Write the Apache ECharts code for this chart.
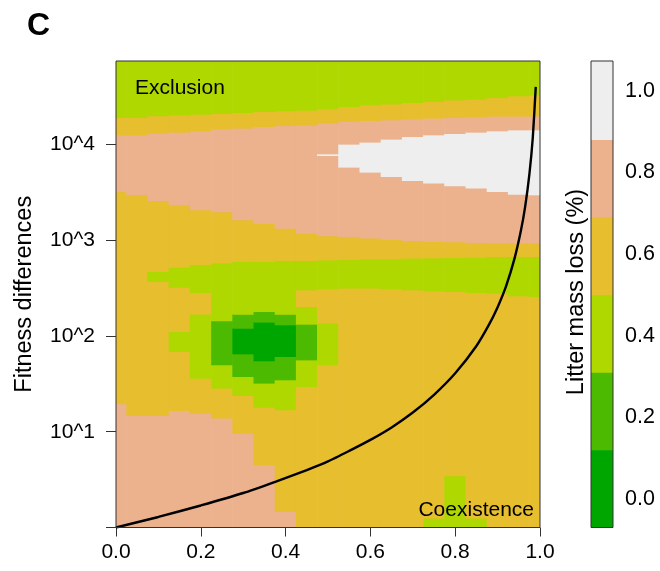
<!DOCTYPE html>
<html><head><meta charset="utf-8">
<script src="https://cdn.jsdelivr.net/npm/echarts@6/dist/echarts.min.js"></script>
<style>html,body{margin:0;padding:0;background:#fff}#c{width:660px;height:571px}</style>
</head><body><div id="c"></div>
<script>
// ---------- data ----------
const xCenters = [0, 0.05, 0.1, 0.15, 0.2, 0.25, 0.3, 0.35, 0.4, 0.45, 0.5, 0.55, 0.6, 0.65, 0.7, 0.75, 0.8, 0.85, 0.9, 0.95, 1.0];
const xTickValues = [0, 0.2, 0.4, 0.6, 0.8, 1.0];
const yTickExponents = [1, 2, 3, 4];
const yTopExponent = 4.87;
const legendTicks = [0.0, 0.2, 0.4, 0.6, 0.8, 1.0];
const levelBreaks = [-0.07, 0.12, 0.31, 0.50, 0.69, 0.88, 1.073];
const levelColors = ['#00A600', '#4CBA00', '#AFD700', '#E6BE2E', '#EBB28D', '#EEEEEE'];

// Litter mass loss per column (x = xCenters[i]); pairs [loss, upper bound as log10(fitness difference)], bottom to top
const columnBands = [
  [[0.8,1.289],[0.6,3.505],[0.8,4.097],[0.6,4.278],[0.4,4.87]],
  [[0.8,1.167],[0.6,3.471],[0.8,4.097],[0.6,4.278],[0.4,4.87]],
  [[0.8,1.167],[0.6,2.566],[0.4,2.670],[0.6,3.411],[0.8,4.115],[0.6,4.297],[0.4,4.87]],
  [[0.8,1.219],[0.6,1.835],[0.4,2.044],[0.6,2.507],[0.4,2.716],[0.6,3.366],[0.8,4.125],[0.6,4.306],[0.4,4.87]],
  [[0.8,1.192],[0.6,1.557],[0.4,2.225],[0.6,2.451],[0.4,2.740],[0.6,3.314],[0.8,4.139],[0.6,4.313],[0.4,4.87]],
  [[0.8,1.140],[0.6,1.453],[0.4,1.696],[0.2,2.156],[0.4,2.758],[0.6,3.293],[0.8,4.160],[0.6,4.319],[0.4,4.87]],
  [[0.8,0.983],[0.6,1.376],[0.4,1.574],[0.2,1.811],[0.0,2.079],[0.2,2.225],[0.4,2.775],[0.6,3.210],[0.8,4.167],[0.6,4.330],[0.4,4.87]],
  [[0.8,0.652],[0.6,1.255],[0.4,1.505],[0.2,1.738],[0.0,2.142],[0.2,2.253],[0.4,2.775],[0.6,3.175],[0.8,4.184],[0.6,4.340],[0.4,4.87]],
  [[0.8,0.165],[0.6,1.227],[0.4,1.540],[0.2,1.783],[0.0,2.114],[0.2,2.225],[0.4,2.785],[0.6,3.123],[0.8,4.194],[0.6,4.348],[0.4,4.87]],
  [[0.6,1.470],[0.4,1.748],[0.2,2.121],[0.4,2.305],[0.6,2.479],[0.4,2.785],[0.6,3.071],[0.8,4.201],[0.6,4.355],[0.4,4.87]],
  [[0.6,1.696],[0.4,2.132],[0.6,2.490],[0.4,2.792],[0.6,3.043],[0.8,3.881],[1.0,3.899],[0.8,4.219],[0.6,4.370],[0.4,4.87]],
  [[0.6,2.497],[0.4,2.795],[0.6,3.035],[0.8,3.760],[1.0,4.000],[0.8,4.236],[0.6,4.393],[0.4,4.87]],
  [[0.6,2.497],[0.4,2.800],[0.6,3.019],[0.8,3.708],[1.0,4.021],[0.8,4.246],[0.6,4.410],[0.4,4.87]],
  [[0.6,2.490],[0.4,2.803],[0.6,3.008],[0.8,3.662],[1.0,4.052],[0.8,4.254],[0.6,4.418],[0.4,4.87]],
  [[0.6,2.479],[0.4,2.810],[0.6,2.994],[0.8,3.620],[1.0,4.079],[0.8,4.264],[0.6,4.434],[0.4,4.87]],
  [[0.4,0.096],[0.6,2.469],[0.4,2.813],[0.6,2.983],[0.8,3.593],[1.0,4.097],[0.8,4.271],[0.6,4.445],[0.4,4.87]],
  [[0.4,0.538],[0.6,2.461],[0.4,2.816],[0.6,2.980],[0.8,3.565],[1.0,4.111],[0.8,4.278],[0.6,4.462],[0.4,4.87]],
  [[0.4,0.096],[0.6,2.451],[0.4,2.820],[0.6,2.973],[0.8,3.541],[1.0,4.125],[0.8,4.285],[0.6,4.470],[0.4,4.87]],
  [[0.6,2.445],[0.4,2.824],[0.6,2.967],[0.8,3.505],[1.0,4.139],[0.8,4.292],[0.6,4.486],[0.4,4.87]],
  [[0.6,2.416],[0.4,2.827],[0.6,2.967],[0.8,3.478],[1.0,4.149],[0.8,4.292],[0.6,4.504],[0.4,4.87]],
  [[0.6,2.409],[0.4,2.827],[0.6,2.967],[0.8,3.471],[1.0,4.149],[0.8,4.295],[0.6,4.515],[0.4,4.87]]
];

// Boundary curve (x, log10 of fitness difference)
const curveX    = [0, 0.1, 0.2, 0.3, 0.377, 0.45, 0.5, 0.55, 0.6, 0.65, 0.7, 0.75, 0.8, 0.85, 0.88, 0.9, 0.92, 0.94, 0.955, 0.965, 0.975, 0.983, 0.990];
const curveLogY = [0, 0.11, 0.23, 0.36, 0.48, 0.60, 0.69, 0.80, 0.915, 1.045, 1.20, 1.385, 1.61, 1.895, 2.12, 2.30, 2.52, 2.81, 3.10, 3.35, 3.69, 4.07, 4.60];

// ---------- build ----------
const halfW = (xCenters[1] - xCenters[0]) / 2;
const cells = [];
xCenters.forEach((x, i) => {
  let lo = 0;
  columnBands[i].forEach(([v, hi]) => {
    cells.push([x, Math.pow(10, lo), Math.pow(10, hi), v]);
    lo = hi;
  });
});
const curveData = curveX.map((x, i) => [x, Math.pow(10, curveLogY[i])]);
const legendCells = levelColors.map((c, i) => [0.5, levelBreaks[i], levelBreaks[i + 1], (levelBreaks[i] + levelBreaks[i + 1]) / 2]);
const pieces = levelColors.map((c, i) => ({ gte: levelBreaks[i], lt: levelBreaks[i + 1], color: c }));
pieces[pieces.length - 1].lte = levelBreaks[levelBreaks.length - 1]; delete pieces[pieces.length - 1].lt;

function rectItem(params, api, x0, x1, y0, y1) {
  const p0 = api.coord([x0, y0]);
  const p1 = api.coord([x1, y1]);
  const cs = params.coordSys;
  const shape = echarts.graphic.clipRectByRect(
    { x: Math.min(p0[0], p1[0]) - 0.3, y: Math.min(p0[1], p1[1]) - 0.3, width: Math.abs(p1[0] - p0[0]) + 0.6, height: Math.abs(p1[1] - p0[1]) + 0.6 },
    { x: cs.x, y: cs.y, width: cs.width, height: cs.height });
  return shape && { type: 'rect', shape: shape, style: { fill: api.visual('color') } };
}

const FONT = 'Liberation Sans, Arial, Helvetica, sans-serif';
const chart = echarts.init(document.getElementById('c'), null, { renderer: 'canvas' });
chart.setOption({
  backgroundColor: '#ffffff',
  animation: false,
  title: { text: 'C', left: 22, top: 5, textStyle: { fontSize: 32, fontWeight: 'bold', color: '#000', fontFamily: FONT } },
  visualMap: { type: 'piecewise', show: false, dimension: 3, seriesIndex: [0, 2], pieces: pieces },
  grid: [
    { left: 116, top: 61, width: 424, bottom: 43.5, show: true, z: 10, borderColor: '#333', borderWidth: 1, backgroundColor: 'transparent', outerBoundsMode: 'none', containLabel: false },
    { left: 591, top: 61, width: 22, bottom: 43.5, show: true, z: 10, borderColor: '#333', borderWidth: 1, backgroundColor: 'transparent', outerBoundsMode: 'none', containLabel: false }
  ],
  xAxis: [
    { type: 'value', gridIndex: 0, min: 0, max: 1, interval: 0.2,
      axisLine: { show: false }, splitLine: { show: false },
      axisTick: { show: true, length: 9, lineStyle: { color: '#333' } },
      axisLabel: { fontSize: 21, color: '#000', margin: 14, fontFamily: FONT, formatter: v => v.toFixed(1) } },
    { type: 'value', gridIndex: 1, min: 0, max: 1, show: false }
  ],
  yAxis: [
    { type: 'log', logBase: 10, gridIndex: 0, min: 1, max: Math.pow(10, yTopExponent),
      axisLine: { show: false }, splitLine: { show: false },
      axisTick: { show: true, length: 10, lineStyle: { color: '#333' }, customValues: [1].concat(yTickExponents.map(e => Math.pow(10, e))) },
      axisLabel: { fontSize: 21, color: '#000', margin: 21, fontFamily: FONT,
        customValues: yTickExponents.map(e => Math.pow(10, e)),
        formatter: v => '10^' + Math.round(Math.log10(v)) },
      name: 'Fitness differences', nameLocation: 'middle', nameGap: 79,
      nameTextStyle: { fontSize: 23.5, color: '#000', fontFamily: FONT } },
    { type: 'value', gridIndex: 1, min: levelBreaks[0], max: levelBreaks[levelBreaks.length - 1], position: 'right',
      axisLine: { show: false }, splitLine: { show: false },
      axisTick: { show: true, length: 8, lineStyle: { color: '#333' }, customValues: legendTicks },
      axisLabel: { fontSize: 21.5, color: '#000', margin: 12, fontFamily: FONT, customValues: legendTicks, formatter: v => v.toFixed(1) } }
  ],
  series: [
    { type: 'custom', xAxisIndex: 0, yAxisIndex: 0, data: cells, z: 2,
      encode: { x: [0], y: [1, 2] },
      renderItem: (params, api) => rectItem(params, api, api.value(0) - halfW, api.value(0) + halfW, api.value(1), api.value(2)) },
    { type: 'line', xAxisIndex: 0, yAxisIndex: 0, data: curveData, smooth: 0.2, symbol: 'none', z: 5,
      lineStyle: { color: '#000', width: 2.4 } },
    { type: 'custom', xAxisIndex: 1, yAxisIndex: 1, data: legendCells, z: 2,
      encode: { x: [0], y: [1, 2] },
      renderItem: (params, api) => rectItem(params, api, 0, 1, api.value(1), api.value(2)) }
  ],
  graphic: [
    { type: 'text', left: 135, top: 78, z: 20, style: { text: 'Exclusion', fontSize: 21, fill: '#000', fontFamily: FONT } },
    { type: 'text', right: 126, top: 500, z: 20, style: { text: 'Coexistence', fontSize: 21, fill: '#000', fontFamily: FONT } },
    { type: 'text', x: 577, y: 292, rotation: Math.PI / 2, z: 20,
      style: { text: 'Litter mass loss (%)', fontSize: 23.5, fill: '#000', fontFamily: FONT, align: 'center', verticalAlign: 'middle' } }
  ]
});
</script></body></html>
